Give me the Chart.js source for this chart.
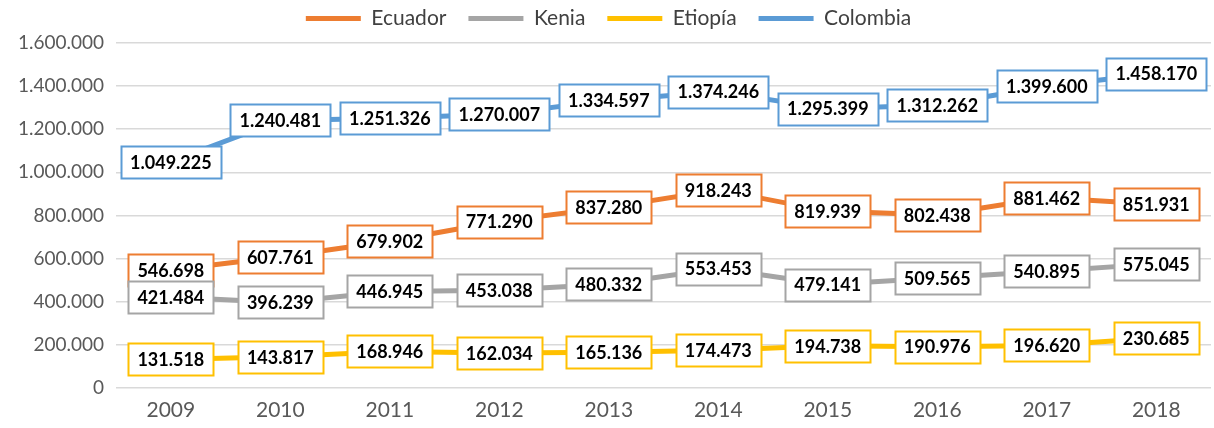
<!DOCTYPE html>
<html lang="es">
<head>
<meta charset="UTF-8">
<title>Ecuador, Kenia, Etiopía, Colombia 2009-2018</title>
<script src="https://cdn.jsdelivr.net/npm/chart.js"></script>
<style>
    body { margin: 0; background: #fff; }
    #wrap { width: 1214px; height: 428px; }
</style>
</head>
<body>
<div id="wrap"><canvas id="chart"></canvas></div>
<script>
const years = ['2009', '2010', '2011', '2012', '2013', '2014', '2015', '2016', '2017', '2018'];
const ecuador = [546698, 607761, 679902, 771290, 837280, 918243, 819939, 802438, 881462, 851931];
const kenia = [421484, 396239, 446945, 453038, 480332, 553453, 479141, 509565, 540895, 575045];
const etiopia = [131518, 143817, 168946, 162034, 165136, 174473, 194738, 190976, 196620, 230685];
const colombia = [1049225, 1240481, 1251326, 1270007, 1334597, 1374246, 1295399, 1312262, 1399600, 1458170];

// thousands separated with dots, like the original
function fmt(v) {
    return String(v).replace(/\B(?=(\d{3})+(?!\d))/g, '.');
}

// boxed value labels centred on each point
const boxLabels = {
    id: 'boxLabels',
    afterDatasetsDraw(chart) {
        const ctx = chart.ctx;
        ctx.save();
        ctx.font = 'bold 18px Lato';
        ctx.textAlign = 'center';
        ctx.textBaseline = 'middle';
        chart.data.datasets.forEach((ds, i) => {
            const meta = chart.getDatasetMeta(i);
            meta.data.forEach((pt, j) => {
                const text = fmt(ds.data[j]);
                const w = Math.round(ctx.measureText(text).width + 18);
                const h = 32;
                const x = Math.round(pt.x - w / 2) + 0.5;
                const y = Math.round(pt.y - h / 2) + 0.5;
                ctx.fillStyle = '#fff';
                ctx.fillRect(x, y, w, h);
                ctx.strokeStyle = ds.borderColor;
                ctx.lineWidth = 2;
                ctx.strokeRect(x, y, w, h);
                ctx.fillStyle = '#000';
                ctx.fillText(text, pt.x, pt.y + 1);
            });
        });
        ctx.restore();
    }
};

// a bit more room under the legend row
const legendGap = {
    id: 'legendGap',
    afterInit(chart) {
        const fit = chart.legend.fit;
        chart.legend.fit = function () {
            fit.call(this);
            this.height += 4;
        };
    }
};

function series(label, data, color) {
    return {
        label: label,
        data: data,
        borderColor: color,
        backgroundColor: color,
        borderWidth: 5,
        pointRadius: 0,
        tension: 0,
        fill: false
    };
}

new Chart(document.getElementById('chart'), {
    type: 'line',
    data: {
        labels: years,
        datasets: [
            series('Ecuador', ecuador, '#ED7D31'),
            series('Kenia', kenia, '#A5A5A5'),
            series('Etiopía', etiopia, '#FFC000'),
            series('Colombia', colombia, '#5B9BD5')
        ]
    },
    options: {
        responsive: true,
        maintainAspectRatio: false,
        animation: false,
        layout: { padding: { left: 6, right: 3, top: -14, bottom: -5 } },
        plugins: {
            tooltip: { enabled: false },
            legend: {
                position: 'top',
                labels: {
                    color: '#404040',
                    font: { family: 'Lato', size: 21 },
                    boxWidth: 55,
                    boxHeight: 5,
                    padding: 22,
                    generateLabels(chart) {
                        const items = Chart.defaults.plugins.legend.labels.generateLabels(chart);
                        items.forEach(it => { it.fillStyle = it.strokeStyle; it.lineWidth = 0; });
                        return items;
                    }
                }
            }
        },
        scales: {
            x: {
                offset: true,
                grid: { display: false, drawTicks: false },
                border: { display: false },
                ticks: { color: '#595959', font: { family: 'Lato', size: 21 }, padding: 10 }
            },
            y: {
                min: 0,
                max: 1600000,
                ticks: {
                    stepSize: 200000,
                    color: '#595959',
                    font: { family: 'Lato', size: 19 },
                    padding: 12,
                    callback: v => fmt(v)
                },
                grid: { color: '#D9D9D9', lineWidth: 1.5, drawTicks: false },
                border: { display: false }
            }
        }
    },
    plugins: [boxLabels, legendGap]
});
</script>
</body>
</html>
